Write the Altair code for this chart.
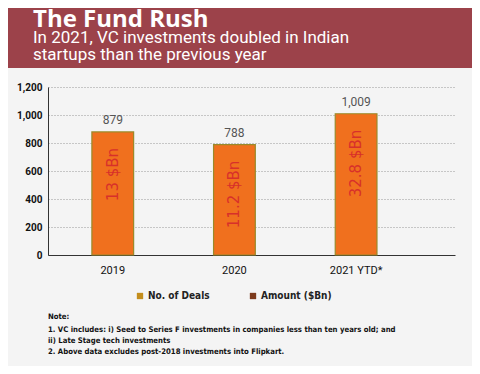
import altair as alt
import pandas as pd

years = ["2019", "2020", "2021 YTD*"]
deals = [879, 788, 1009]
deal_labels = ["879", "788", "1,009"]
amount_labels = ["13 $Bn", "11.2 $Bn", "32.8 $Bn"]
y_ticks = [0, 200, 400, 600, 800, 1000, 1200]

title = "The Fund Rush"
subtitle = ["In  2021, VC investments doubled in Indian", "startups than the previous year"]
legend_labels = ["No. of Deals", "Amount ($Bn)"]
legend_colors = ["#c38d1c", "#7c3a1c"]
notes = [
    "Note:",
    "1. VC includes: i) Seed to Series F investments in companies less than ten years old; and",
    "ii) Late Stage tech investments",
    "2. Above data excludes post-2018 investments into Flipkart.",
]

df = pd.DataFrame({"year": years, "deals": deals, "dl": deal_labels, "al": amount_labels})
one = alt.Data(values=[{"a": 1}])

FONT = "Roboto"
COND = "DejaVu Sans Condensed, Roboto"

x = alt.X("year:N", sort=years, title=None,
          scale=alt.Scale(paddingInner=0.657, paddingOuter=0.501, align=0.36),
          axis=alt.Axis(labelAngle=0, labelFontSize=11, labelColor="#111", labelFont=FONT,
                        ticks=False, labelPadding=9, domainColor="#333", domainWidth=1))
y = alt.Y("deals:Q", title=None,
          scale=alt.Scale(domain=[0, 1200], nice=False),
          axis=alt.Axis(values=y_ticks, format=",d", labelFontSize=10, labelFontWeight="bold",
                        labelColor="#111", labelFont=FONT, ticks=False, labelPadding=6,
                        labelOverlap=False, labelFlush=False, tickCount=7,
                        domainColor="#333", domainWidth=1, gridColor="#999",
                        gridDash=[1, 2], gridWidth=1))

base = alt.Chart(df).encode(x=x, y=y)
bars = base.mark_bar(color="#f0701e", stroke="#9a8a2a", strokeWidth=1.2)
top_labels = base.mark_text(dy=-5, baseline="bottom", fontSize=12, color="#555", font=FONT).encode(
    text="dl:N")
inner = base.mark_text(angle=270, align="right", baseline="middle", dx=-16, fontSize=15,
                       color="#d8302a", font="DejaVu Sans").encode(text="al:N")

header = alt.Chart(one).mark_rect(color="#9c424a").encode(
    x=alt.value(-48), x2=alt.value(432), y=alt.value(-87), y2=alt.value(-19))
t1 = alt.Chart(one).mark_text(text=title, align="left", baseline="alphabetic", fontSize=24,
                              fontWeight="bold", color="white", font="Open Sans").encode(
    x=alt.value(-15), y=alt.value(-60))
subs = [
    alt.Chart(one).mark_text(text=s, align="left", baseline="alphabetic", fontSize=17,
                             color="white", font=FONT, fontWeight=400).encode(
        x=alt.value(-15), y=alt.value(sy))
    for s, sy in zip(subtitle, [-44, -27])
]

leg = []
for lab, col, sx in zip(legend_labels, legend_colors, [89, 202]):
    leg.append(alt.Chart(one).mark_square(color=col, size=40, opacity=1).encode(
        x=alt.value(sx + 3), y=alt.value(209)))
    leg.append(alt.Chart(one).mark_text(text=lab, align="left", baseline="middle", fontSize=10,
                                        fontWeight="bold", color="#222", font=COND).encode(
        x=alt.value(sx + 11), y=alt.value(209)))

note_y = [230, 243, 254, 265]
note_layers = [
    alt.Chart(one).mark_text(text=t, align="left", baseline="middle", fontSize=7.7,
                             fontWeight="bold", color="#111", font=COND).encode(
        x=alt.value(0), y=alt.value(ny))
    for t, ny in zip(notes, note_y)
]

chart = alt.layer(header, t1, *subs, bars, top_labels, inner, *leg, *note_layers).properties(
    width=407, height=168,
    autosize=alt.AutoSizeParams(type="none"),
    padding={"left": 40, "top": 79, "right": 17, "bottom": 111},
    background="#f4f4f4",
).configure_view(stroke=None)

chart.save("out.html", embed_options={"renderer": "svg", "actions": False})
